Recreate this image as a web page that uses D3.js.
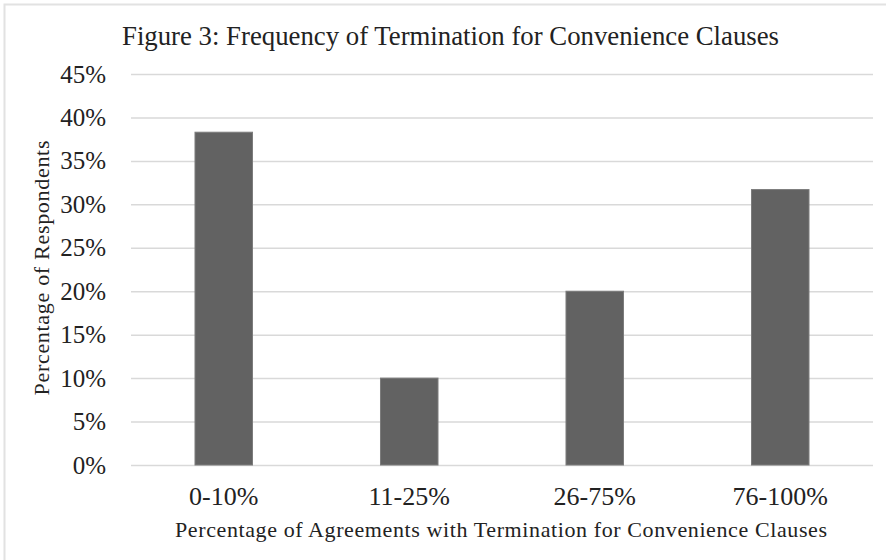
<!DOCTYPE html>
<html>
<head>
<meta charset="utf-8">
<script src="https://cdn.jsdelivr.net/npm/d3@7"></script>
<style>
  html, body { margin: 0; padding: 0; background: #fff; }
  svg text { font-family: "Liberation Serif", "Times New Roman", serif; fill: #222; }
</style>
</head>
<body>
<svg id="chart" width="886" height="560"></svg>
<script>
const categories = ["0-10%", "11-25%", "26-75%", "76-100%"];
const values = [0.383, 0.10, 0.20, 0.317];
const yTicks = [0, 0.05, 0.10, 0.15, 0.20, 0.25, 0.30, 0.35, 0.40, 0.45];
const titleText = "Figure 3: Frequency of Termination for Convenience Clauses";
const xTitle = "Percentage of Agreements with Termination for Convenience Clauses";
const yTitle = "Percentage of Respondents";

const W = 886, H = 560;
const m = { left: 131, right: 13, top: 74, bottom: 95 };
const svg = d3.select("#chart");

// outer border (light)
svg.append("rect").attr("x", 4.5).attr("y", 4.5).attr("width", W + 10).attr("height", H + 10)
  .attr("fill", "none").attr("stroke", "#e2e2e2").attr("stroke-width", 2);

const x = d3.scaleBand().domain(categories).range([m.left, W - m.right])
  .paddingInner(0.69).paddingOuter(0.345);
const y = d3.scaleLinear().domain([0, 0.45]).range([H - m.bottom, m.top]);

// gridlines
const grid = d3.axisLeft(y).tickValues(yTicks).tickSize(-(W - m.left - m.right)).tickFormat("");
const gg = svg.append("g").attr("transform", `translate(${m.left},0)`).call(grid);
gg.select(".domain").remove();
gg.selectAll("line").attr("stroke", "#d9d9d9").attr("stroke-width", 1.5);

// y axis labels
const yAxis = d3.axisLeft(y).tickValues(yTicks).tickSize(0).tickPadding(25)
  .tickFormat(d => Math.round(d * 100) + "%");
const ya = svg.append("g").attr("transform", `translate(${m.left},0)`).call(yAxis);
ya.select(".domain").remove();
ya.selectAll("text").attr("font-size", 25).attr("font-family", "Liberation Serif").attr("fill", "#222");

// bars
svg.append("g").selectAll("rect").data(values).join("rect")
  .attr("x", (d, i) => x(categories[i]))
  .attr("width", x.bandwidth())
  .attr("y", d => y(d))
  .attr("height", d => y(0) - y(d))
  .attr("fill", "#626262")
  .attr("stroke", "#7c7c7c")
  .attr("stroke-width", 1);

// x axis labels
const xAxis = d3.axisBottom(x).tickSize(0).tickPadding(22);
const xa = svg.append("g").attr("transform", `translate(0,${y(0)})`).call(xAxis);
xa.select(".domain").remove();
xa.selectAll("text").attr("font-size", 26).attr("font-family", "Liberation Serif").attr("fill", "#222");

// titles
svg.append("text").attr("x", 450.5).attr("y", 45).attr("text-anchor", "middle")
  .attr("font-size", 28).attr("textLength", 657).attr("lengthAdjust", "spacingAndGlyphs")
  .text(titleText);
svg.append("text").attr("x", 501).attr("y", 537).attr("text-anchor", "middle")
  .attr("font-size", 22).attr("textLength", 652).attr("lengthAdjust", "spacing")
  .text(xTitle);
svg.append("text").attr("transform", "translate(49,268) rotate(-90)").attr("text-anchor", "middle")
  .attr("font-size", 22).attr("textLength", 255).attr("lengthAdjust", "spacing")
  .text(yTitle);
</script>
</body>
</html>
